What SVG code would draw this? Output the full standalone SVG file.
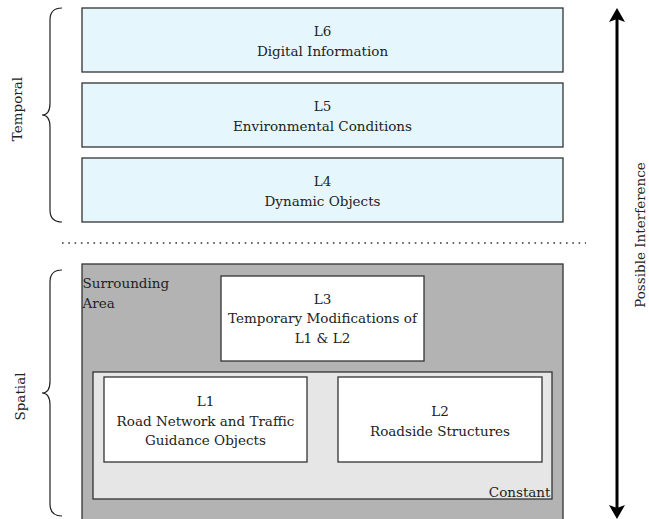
<svg xmlns="http://www.w3.org/2000/svg" width="649" height="519" viewBox="0 0 649 519">
<style>
.t{font-family:"DejaVu Serif",serif;font-size:13.5px;fill:#222;}
.blue{fill:#e5f7fd;stroke:#333;stroke-width:1.3;}
.white{fill:#fff;stroke:#333;stroke-width:1.3;}
.brace{fill:none;stroke:#222;stroke-width:1.2;}
</style>
<defs>
<path id="ahead" d="M0,0 L8,14 L0,11 L-8,14 Z" fill="#000"/>
</defs>
<rect width="649" height="519" fill="#fff"/>
<g id="brace-temporal">
<path class="brace" d="M62,8 Q50,8 50,20 L50,103 Q50,115 42,115 Q50,115 50,127 L50,210 Q50,222 62,222"/>
<text class="t" text-anchor="middle" transform="translate(22,109) rotate(-90)">Temporal</text>
</g>
<g id="brace-spatial">
<path class="brace" d="M62,270 Q50,270 50,282 L50,381 Q50,393 42,393 Q50,393 50,405 L50,504 Q50,516 62,516"/>
<text class="t" text-anchor="middle" transform="translate(24.5,396.5) rotate(-90)">Spatial</text>
</g>

<g id="L6">
<rect class="blue" x="82" y="8" width="481" height="64"/>
<text class="t" text-anchor="middle"><tspan x="322.5" y="36">L6</tspan><tspan x="322.5" y="56">Digital Information</tspan></text>
</g>
<g id="L5">
<rect class="blue" x="82" y="83" width="481" height="64"/>
<text class="t" text-anchor="middle"><tspan x="322.5" y="111">L5</tspan><tspan x="322.5" y="131">Environmental Conditions</tspan></text>
</g>
<g id="L4">
<rect class="blue" x="82" y="158" width="481" height="64"/>
<text class="t" text-anchor="middle"><tspan x="322.5" y="186">L4</tspan><tspan x="322.5" y="206">Dynamic Objects</tspan></text>
</g>

<g id="separator">
<line x1="62" y1="243" x2="586" y2="243" stroke="#333" stroke-width="1.6" stroke-dasharray="1.6 4.7"/>
</g>

<g id="surrounding-area">
<rect x="82" y="264" width="481" height="270" fill="#b3b3b3" stroke="#333" stroke-width="1.3"/>
<text class="t"><tspan x="82.5" y="287.5">Surrounding</tspan><tspan x="82.5" y="307.5">Area</tspan></text>
</g>
<g id="L3">
<rect class="white" x="221" y="276" width="203" height="85"/>
<text class="t" text-anchor="middle"><tspan x="322.5" y="304">L3</tspan><tspan x="322.5" y="323.3">Temporary Modifications of</tspan><tspan x="322.5" y="342.6">L1 &amp; L2</tspan></text>
</g>
<g id="constant">
<rect x="93" y="372" width="459" height="127" fill="#e6e6e6" stroke="#333" stroke-width="1.3"/>
<text class="t" text-anchor="end" x="550.5" y="497">Constant</text>
</g>
<g id="L1">
<rect class="white" x="104" y="377" width="203" height="85"/>
<text class="t" text-anchor="middle"><tspan x="205.5" y="406">L1</tspan><tspan x="205.5" y="425.5">Road Network and Traffic</tspan><tspan x="205.5" y="445">Guidance Objects</tspan></text>
</g>
<g id="L2">
<rect class="white" x="338" y="377" width="204" height="85"/>
<text class="t" text-anchor="middle"><tspan x="440" y="415.5">L2</tspan><tspan x="440" y="435.5">Roadside Structures</tspan></text>
</g>

<g id="connectors">
<line x1="617" y1="18" x2="617" y2="509" stroke="#000" stroke-width="3"/>
<use href="#ahead" transform="translate(617,8)"/>
<use href="#ahead" transform="translate(617,519) rotate(180)"/>
<text class="t" text-anchor="middle" transform="translate(645,235) rotate(-90)">Possible Interference</text>
</g>
</svg>
